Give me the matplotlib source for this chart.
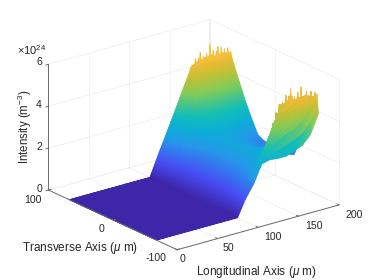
import numpy as np
import matplotlib
matplotlib.use("Agg")
import matplotlib.pyplot as plt
from matplotlib.colors import LinearSegmentedColormap
from mpl_toolkits.mplot3d import proj3d

plt.rcParams['font.family'] = ['Liberation Sans', 'DejaVu Sans']
plt.rcParams['mathtext.fontset'] = 'custom'
plt.rcParams['mathtext.rm'] = 'Liberation Sans'
plt.rcParams['mathtext.it'] = 'Liberation Sans:italic'

# Intensity table (units of 1e24 m^-3)
x_knots = [0, 100, 110, 120, 130, 140, 150, 160, 170, 180, 190, 200]
y_knots = [-68, -66, -60, -50, -30, 0, 20, 26, 35, 46, 54, 60, 68]
z_y_m68 = [0, 0, .80, 1.40, 2.25, 2.35, 2.30, 2.30, 2.45, 2.60, 3.00, 3.90]
z_y_m66 = [0, 0, .85, 1.50, 2.30, 2.80, 3.10, 3.30, 3.45, 3.70, 4.15, 4.70]
z_y_m60 = [0, 0, .75, 1.40, 2.10, 2.80, 3.70, 4.50, 4.65, 4.70, 4.75, 4.60]
z_y_m50 = [0, 0, .65, 1.20, 1.70, 2.00, 2.40, 2.90, 3.10, 3.20, 3.10, 3.00]
z_y_m30 = [0, 0, .50, 1.00, 1.45, 1.75, 1.95, 2.10, 2.00, 1.90, 1.60, 1.40]
z_y_0 = [0, 0, .50, 1.00, 1.40, 1.80, 2.00, 1.90, 1.70, 1.50, 1.30, 1.20]
z_y_20 = [0, 0, .55, 1.05, 1.50, 1.90, 2.10, 2.00, 1.90, 1.70, 1.50, 1.45]
z_y_26 = [0, 0, .60, 1.10, 1.60, 2.00, 2.15, 2.10, 2.00, 1.85, 1.70, 1.56]
z_y_35 = [0, 0, .65, 1.25, 1.80, 2.20, 2.40, 2.45, 2.40, 2.30, 2.20, 2.14]
z_y_46 = [0, 0, .75, 1.45, 2.10, 2.55, 2.85, 2.95, 2.95, 2.95, 2.95, 2.93]
z_y_54 = [0, 0, .85, 1.65, 2.40, 2.90, 3.30, 3.50, 3.55, 3.60, 3.60, 3.60]
z_y_60 = [0, 0, .90, 1.75, 2.60, 3.30, 4.00, 4.15, 4.15, 4.15, 4.10, 4.10]
z_y_68 = [0, 0, .95, 1.85, 2.75, 3.70, 4.60, 4.85, 4.85, 4.85, 4.80, 4.80]

# Jagged crest heights above the table, one value every 2 µm from x=150 to 200
spike_x = list(range(150, 202, 2))
spikes_back = [.1, .15, .1, .3, .1, .2, .45, .1, .2, .15, .3, .15, .7, .2, .35, .1, .3, .5, .15, .45, .2, .35, .15, .35, .1, .15]
spikes_front = [.15, .1, .3, .1, .35, .15, .2, .1, .45, .15, .3, .6, .2, .35, .15, .5, .2, .65, .3, .15, .45, .2, .5, .15, .3, .1]
crest_front_x = [150, 170, 190, 200]
crest_front_y = [-60, -60, -62, -66]

tick_x = [0, 50, 100, 150, 200]
tick_y = [-100, 0, 100]
tick_z = [0, 2, 4, 6]

parula = LinearSegmentedColormap.from_list('parula', [
    (0.00, (.2422, .1504, .6603)), (.12, (.281, .30, .96)), (.27, (.154, .59, .92)),
    (.36, (.05, .68, .85)), (.45, (.07, .746, .726)), (.60, (.504, .799, .348)),
    (.72, (.80, .75, .20)), (.80, (.96, .73, .23)), (.90, (.97, .85, .15)),
    (1.0, (.977, .984, .08))])

Z_table = np.array([z_y_m68, z_y_m66, z_y_m60, z_y_m50, z_y_m30, z_y_0, z_y_20,
                    z_y_26, z_y_35, z_y_46, z_y_54, z_y_60, z_y_68])

# interpolated shading: subdivide each table cell for drawing only
xf = np.concatenate([np.arange(0, 100, 10.), np.arange(100, 201, 1.)])
yf = np.arange(-68, 69, 1.)
tmp = np.array([np.interp(xf, x_knots, row) for row in Z_table])
Zf = np.array([np.interp(yf, y_knots, tmp[:, j]) for j in range(tmp.shape[1])]).T
for sx, a, b in zip(spike_x, spikes_back, spikes_front):
    j = np.argmin(abs(xf - sx))
    Zf[-1, j] += a
    i = np.argmin(abs(yf - np.interp(sx, crest_front_x, crest_front_y)))
    Zf[i, j] += b
Xf, Yf = np.meshgrid(xf, yf)

W, H = 374, 280
fig = plt.figure(figsize=(W / 100, H / 100), dpi=100)
ax = fig.add_axes([0, 0, 1, 1], projection='3d', proj_type='ortho')
ax.computed_zorder = False
ax.set_xlim(0, 200); ax.set_ylim(-100, 100); ax.set_zlim(0, 6)
ax.set_box_aspect((205, 211, 135))
ax.view_init(elev=21, azim=-127.7)
ax.set_axis_off()
ax.patch.set_alpha(0)

grid = dict(color='#eeeeee', lw=.5, zorder=1)
for z in tick_z:
    ax.plot([0, 200], [100, 100], [z, z], **grid)
    ax.plot([200, 200], [-100, 100], [z, z], **grid)
for x in tick_x:
    ax.plot([x, x], [100, 100], [0, 6], **grid)
    ax.plot([x, x], [-100, 100], [0, 0], **grid)
for y in tick_y:
    ax.plot([200, 200], [y, y], [0, 6], **grid)
    ax.plot([0, 200], [y, y], [0, 0], **grid)
ax.plot([200, 200], [100, 100], [0, 6], color='#ececec', lw=1.2, zorder=1)

surf = ax.plot_surface(Xf, Yf, Zf, rstride=1, cstride=1, cmap=parula, vmin=0, vmax=6,
                       linewidth=.5, antialiased=True, shade=False, zorder=2)
surf.set_edgecolor('face')

axc = dict(color='#6a6a6a', lw=.7, zorder=3)
ax.plot([0, 0], [100, 100], [0, 6], **axc)
ax.plot([0, 0], [-100, 100], [0, 0], **axc)
ax.plot([0, 200], [-100, -100], [0, 0], **axc)
for z in tick_z:
    ax.plot([-3, 0], [100, 100], [z, z], **axc)
for x in tick_x:
    ax.plot([x, x], [-100, -97], [0, 0], **axc)
for y in tick_y:
    ax.plot([0, 3], [y, y], [0, 0], **axc)

# Align the projected box with the reference's pixel positions
def corner(x, y, z):
    u, v, _ = proj3d.proj_transform(x, y, z, ax.get_proj())
    return ax.transData.transform((u, v))

target_a = np.array([48.5, H - 190.])   # x=0, y=100, z=0
target_b = np.array([339., H - 205.])   # x=200, y=-100, z=0
side = 1.0
l = (W - H) / 2 / W
b = 0.
for _ in range(3):
    fig.canvas.draw()
    a0, b0 = corner(0, 100, 0), corner(200, -100, 0)
    side *= np.linalg.norm(target_b - target_a) / np.linalg.norm(b0 - a0)
    ax.set_position([l, b, side * H / W, side])
    fig.canvas.draw()
    a0, b0 = corner(0, 100, 0), corner(200, -100, 0)
    d = ((target_a - a0) + (target_b - b0)) / 2
    l += d[0] / W
    b += d[1] / H
    ax.set_position([l, b, side * H / W, side])

def label(px, py, s, **kw):
    kw.setdefault('ha', 'center'); kw.setdefault('va', 'center')
    kw.setdefault('fontsize', 7.6); kw.setdefault('color', '#262626')
    fig.text(px / W, 1 - py / H, s, **kw)

for z, py in zip(tick_z, [189, 147, 105, 62]):
    label(42, py, str(z), ha='right')
for x, px, py in zip(tick_x, [183, 228, 273, 314, 354], [259, 248, 237, 226, 215]):
    label(px, py, str(x))
for y, px, py in zip(tick_y, [156, 101, 33], [258, 229, 200]):
    label(px, py, str(y))
label(32, 50, r'$\times$10$^{24}$', fontsize=8)
label(25, 127, r'Intensity (m$^{-3}$)', rotation=90, fontsize=8.3)
label(80, 248, r'Transverse Axis ($\mu$ m)', fontsize=8.5)
label(256, 272, r'Longitudinal Axis ($\mu$ m)', fontsize=8.5)

fig.savefig('out.png', dpi=100)
